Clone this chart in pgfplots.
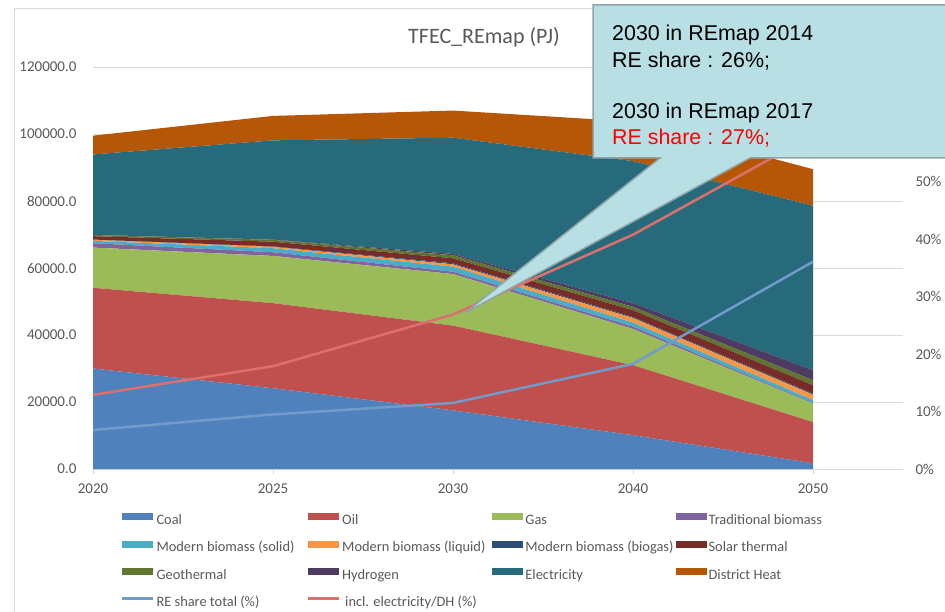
\documentclass[border=0pt]{standalone}
\usepackage{pgfplots}
\pgfplotsset{compat=1.18}
\usepackage{pgfplotstable}
\usepackage{fontspec}
\setmainfont{Carlito}
\newfontfamily\arial{Liberation Sans}
\definecolor{coal}{HTML}{4F81BD}
\definecolor{oil}{HTML}{C0504D}
\definecolor{gas}{HTML}{9BBB59}
\definecolor{trad}{HTML}{8064A2}
\definecolor{solid}{HTML}{4BACC6}
\definecolor{liquid}{HTML}{F79646}
\definecolor{biogas}{HTML}{2C4D75}
\definecolor{solar}{HTML}{772C2A}
\definecolor{geo}{HTML}{5F7530}
\definecolor{hyd}{HTML}{4D3B62}
\definecolor{elec}{HTML}{276A7C}
\definecolor{dh}{HTML}{B65708}
\definecolor{reline}{HTML}{729ACA}
\definecolor{inclline}{HTML}{DB706C}
\definecolor{gridc}{HTML}{D9D9D9}
\definecolor{tickc}{HTML}{595959}
\definecolor{callfill}{HTML}{B8DFE3}
\definecolor{callline}{HTML}{8FA5A8}

\pgfplotstableread{
x coal oil gas trad solid liquid biogas solar geo hyd elec dh
0 30000 24100 12000 1300 700 300 100 1000 350 50 24000 5600
1 24100 25400 14100 1100 1200 400 150 1400 550 100 29600 7300
2 17500 25300 15400 700 1500 700 300 1500 900 400 34700 8100
3 10100 20900 10800 700 1200 1400 300 2000 1000 1100 42400 11800
4 1700 12300 5500 200 900 1600 300 2500 1500 3000 49100 10900
}\energy

\pgfplotstableread{
x re incl
0 6.8 12.9
1 9.5 17.9
2 11.5 26.9
3 18.3 40.8
4 36.1 58.1
}\pct

\newcommand{\lgE}[1]{\makebox[150.2pt][l]{#1}}
\newcommand{\tfont}{\fontsize{15}{17}\selectfont}
\newcommand{\lfont}{\fontsize{14.4}{17}\selectfont}

\begin{document}
\begin{tikzpicture}[x=1pt,y=1pt]
\useasboundingbox (0,0) rectangle (945,611);
\fill[white] (0,0) rectangle (945,611);
\draw[gridc, line width=0.8pt] (14,-5) -- (14,603) -- (960,603);

\begin{axis}[
  at={(93pt,142pt)}, anchor=south west,
  width=810pt, height=402pt, scale only axis,
  xmin=0, xmax=4.5, ymin=0, ymax=120000,
  stack plots=y,
  axis x line*=bottom, axis y line*=left,
  y axis line style={draw=none},
  x axis line style={draw=gridc, line width=0.8pt},
  ymajorgrids, grid style={gridc, line width=0.8pt},
  xtick={0,1,2,3,4}, xticklabels={2020,2025,2030,2040,2050},
  ytick={0,20000,40000,60000,80000,100000,120000},
  scaled y ticks=false,
  /pgf/number format/assume math mode=true,
  yticklabel style={/pgf/number format/fixed, /pgf/number format/fixed zerofill,
    /pgf/number format/precision=1, /pgf/number format/1000 sep={}, xshift=-8pt},
  tick label style={font=\tfont, text=tickc},
  xticklabel style={yshift=-6pt},
  xtick style={draw=gridc, line width=0.8pt},
  ytick style={draw=none},
  major tick length=5pt, tick align=outside,
  legend columns=4, legend cell align=left,
  legend style={at={(0.0346,-0.1095)}, anchor=north west, draw=none, fill=none,
    inner sep=0pt, outer sep=0pt, row sep=13pt, font=\lfont, text=tickc,
    nodes={inner sep=0pt, text height=10.5pt, text depth=3.5pt},
    /tikz/every odd column/.append style={column sep=2pt}},
  legend image code/.code={\fill[#1] (0pt,0.5pt) rectangle (31pt,7.5pt);},
]
\addplot[fill=coal, draw=none] table[x=x,y=coal] {\energy} \closedcycle;
\addlegendentry{\lgE{Coal}}
\addplot[fill=oil, draw=none] table[x=x,y=oil] {\energy} \closedcycle;
\addlegendentry{\lgE{Oil}}
\addplot[fill=gas, draw=none] table[x=x,y=gas] {\energy} \closedcycle;
\addlegendentry{\lgE{Gas}}
\addplot[fill=trad, draw=none] table[x=x,y=trad] {\energy} \closedcycle;
\addlegendentry{\lgE{Traditional biomass}}
\addplot[fill=solid, draw=none] table[x=x,y=solid] {\energy} \closedcycle;
\addlegendentry{\lgE{Modern biomass (solid)}}
\addplot[fill=liquid, draw=none] table[x=x,y=liquid] {\energy} \closedcycle;
\addlegendentry{\lgE{Modern biomass (liquid)}}
\addplot[fill=biogas, draw=none] table[x=x,y=biogas] {\energy} \closedcycle;
\addlegendentry{\lgE{Modern biomass (biogas)}}
\addplot[fill=solar, draw=none] table[x=x,y=solar] {\energy} \closedcycle;
\addlegendentry{\lgE{Solar thermal}}
\addplot[fill=geo, draw=none] table[x=x,y=geo] {\energy} \closedcycle;
\addlegendentry{\lgE{Geothermal}}
\addplot[fill=hyd, draw=none] table[x=x,y=hyd] {\energy} \closedcycle;
\addlegendentry{\lgE{Hydrogen}}
\addplot[fill=elec, draw=none] table[x=x,y=elec] {\energy} \closedcycle;
\addlegendentry{\lgE{Electricity}}
\addplot[fill=dh, draw=none] table[x=x,y=dh] {\energy} \closedcycle;
\addlegendentry{\lgE{District Heat}}
\addlegendimage{legend image code/.code={\draw[reline, line width=2.5pt] (0pt,4pt) -- (31pt,4pt);}}
\addlegendentry{\lgE{RE share total (\%)}}
\addlegendimage{legend image code/.code={\draw[inclline, line width=2.5pt] (0pt,4pt) -- (31pt,4pt);}}
\addlegendentry{\lgE{\hspace{3pt}incl. electricity/DH (\%)}}
\end{axis}

\begin{axis}[
  at={(93pt,142pt)}, anchor=south west,
  width=810pt, height=402pt, scale only axis,
  xmin=0, xmax=4.5, ymin=0, ymax=70,
  axis x line=none, axis y line*=right,
  y axis line style={draw=none},
  ytick={0,10,20,30,40,50,60,70},
  /pgf/number format/assume math mode=true,
  yticklabel={\pgfmathprintnumber{\tick}\%},
  yticklabel style={font=\tfont, text=tickc, xshift=9pt},
  ytick style={draw=none},
]
\addplot[reline, line width=2.5pt] table[x=x,y=re] {\pct};
\addplot[inclline, line width=2.5pt] table[x=x,y=incl] {\pct};
\end{axis}

\node[font=\fontsize{22}{25}\selectfont, text=tickc] at (484,574) {TFEC\_REmap (PJ)};

\filldraw[fill=callfill, draw=callline, line width=1.5pt, line join=miter]
  (593,606) -- (960,606) -- (960,453) -- (750,453) -- (465,298) -- (660,453) -- (593,453) -- cycle;
\begin{scope}[every node/.style={anchor=base west, inner sep=0pt, font=\arial\fontsize{21.4}{25}\selectfont}]
\node at (612,570) {2030 in REmap 2014};
\node at (612,543.5) {RE share : 26\%;};
\node at (612,492.5) {2030 in REmap 2017};
\node[text=red] at (612,466) {RE share : 27\%;};
\end{scope}
\end{tikzpicture}
\end{document}
